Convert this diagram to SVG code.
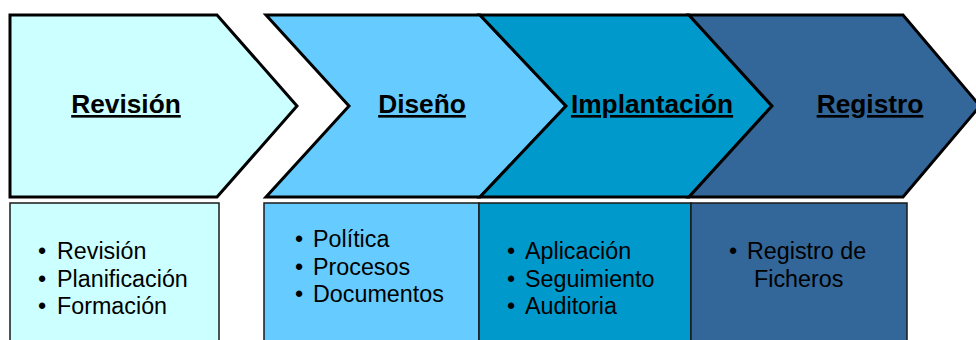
<svg xmlns="http://www.w3.org/2000/svg" width="976" height="340" viewBox="0 0 976 340">
<style>
.chev{stroke:#000;stroke-width:3;stroke-linejoin:miter}
.box{stroke:#1a1a1a;stroke-width:1.5}
.title{font-family:"Liberation Sans",Arial,sans-serif;font-size:26.3px;font-weight:bold;text-decoration:underline;fill:#000;text-anchor:middle}
.item{font-family:"Liberation Sans",Arial,sans-serif;font-size:23.3px;fill:#000}
</style>
<rect width="976" height="340" fill="#fff"/>
<g id="revision">
<polygon class="chev" points="10,15 217,15 297,106 217,197 10,197" fill="#CCFFFF"/>
<text class="title" x="126" y="113">Revisión</text>
<rect class="box" x="10" y="203" width="209" height="145" fill="#CCFFFF"/>
<text class="item" x="38" y="259">•</text><text class="item" x="57" y="259">Revisión</text>
<text class="item" x="38" y="287">•</text><text class="item" x="57" y="287">Planificación</text>
<text class="item" x="38" y="314">•</text><text class="item" x="57" y="314">Formación</text>
</g>
<g id="diseno">
<polygon class="chev" points="266,15 480,15 566,106 480,197 266,197 349,106" fill="#66CCFF"/>
<text class="title" x="422" y="113">Diseño</text>
<rect class="box" x="264" y="203" width="215" height="145" fill="#66CCFF"/>
<text class="item" x="295" y="247">•</text><text class="item" x="313" y="247">Política</text>
<text class="item" x="295" y="275">•</text><text class="item" x="313" y="275">Procesos</text>
<text class="item" x="295" y="302">•</text><text class="item" x="313" y="302">Documentos</text>
</g>
<g id="implantacion">
<polygon class="chev" points="480,15 689,15 772,106 689,197 480,197 566,106" fill="#0099CC"/>
<text class="title" x="652" y="113">Implantación</text>
<rect class="box" x="479" y="203" width="212" height="145" fill="#0099CC"/>
<text class="item" x="507" y="259">•</text><text class="item" x="525" y="259">Aplicación</text>
<text class="item" x="507" y="287">•</text><text class="item" x="525" y="287">Seguimiento</text>
<text class="item" x="507" y="314">•</text><text class="item" x="525" y="314">Auditoria</text>
</g>
<g id="registro">
<polygon class="chev" points="689,15 903,15 980,106 903,197 689,197 772,106" fill="#336699"/>
<text class="title" x="870" y="113">Registro</text>
<rect class="box" x="691" y="203" width="216" height="145" fill="#336699"/>
<text class="item" x="729" y="259">•</text><text class="item" x="747" y="259">Registro de</text>
<text class="item" x="754" y="287">Ficheros</text>
</g>
<g id="connectors"></g>
</svg>
